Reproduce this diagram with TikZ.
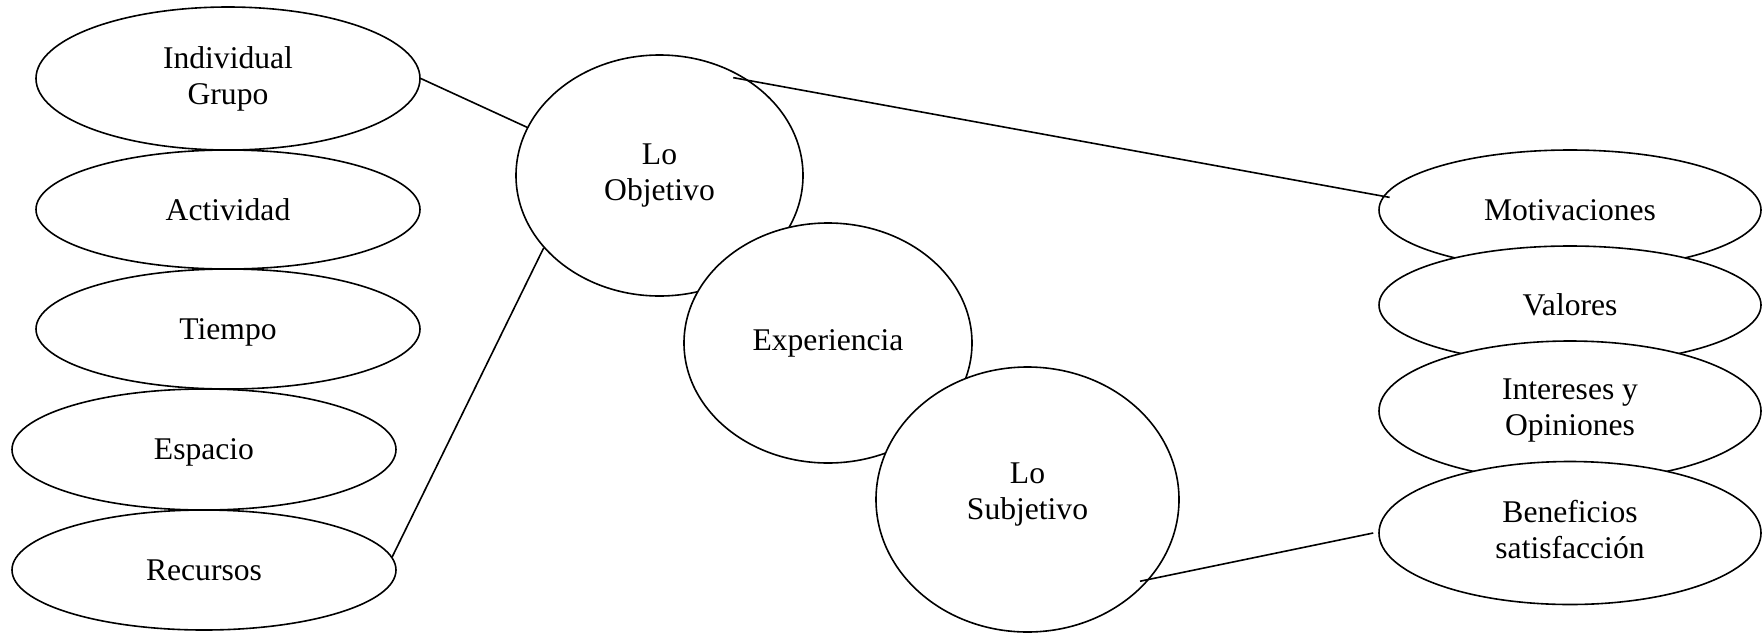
\documentclass[tikz,border=0pt]{standalone}
\usepackage{fontspec}
\setmainfont{Liberation Serif}
\usetikzlibrary{shapes.geometric,calc}
\tikzset{
  oval/.style={ellipse, draw=black, line width=0.8pt, fill=white, inner sep=0pt,
    align=center, font=\fontsize{15.8}{18}\selectfont},
  plain/.style={inner sep=0pt, align=center, font=\fontsize{15.8}{18}\selectfont},
  link/.style={draw=black, line width=0.8pt}
}
\begin{document}
\begin{tikzpicture}[x=0.5pt,y=-0.5pt]
\useasboundingbox (0,0) rectangle (1762,633);
% left column
\node[oval, minimum width=192pt, minimum height=71.5pt] (ind) at (228,78.5) {Individual\\Grupo};
\node[oval, minimum width=192pt, minimum height=59.5pt] (act) at (228,209.5) {Actividad};
\node[oval, minimum width=192pt, minimum height=60pt, text depth=0pt] (tie) at (228,329) {Tiempo};
\node[oval, minimum width=192pt, minimum height=60.5pt, text depth=0pt] (esp) at (204,449.5) {Espacio};
\node[oval, minimum width=192pt, minimum height=60pt] (rec) at (204,570) {Recursos};
% middle
\node[oval, minimum width=143.5pt, minimum height=120.5pt] (obj) at (659.5,175.5) {Lo\\Objetivo};
\node[oval, minimum width=144pt, minimum height=120pt] (exp) at (828,343) {Experiencia};
\node[oval, minimum width=151.5pt, minimum height=132.5pt] (subj) at (1027.5,499.5) {};
\node[plain] (subjtxt) at ([yshift=2.5pt]subj.center) {Lo\\Subjetivo};
% right column
\node[oval, minimum width=191pt, minimum height=60pt] (mot) at (1570,210) {Motivaciones};
\node[oval, minimum width=191pt, minimum height=59pt] (val) at (1570,305) {Valores};
\node[oval, minimum width=191pt, minimum height=70pt] (int) at (1570,411) {Intereses y\\Opiniones};
\node[oval, minimum width=191pt, minimum height=71.5pt] (ben) at (1570,533) {};
\node[plain] (bentxt) at ([yshift=1.5pt]ben.center) {Beneficios\\satisfacción};
% connectors
\draw[link] (ind.east) -- (obj.160);
\draw[link] (rec.4) -- (obj.212);
\draw[link] ($(obj.center)!0.955!(obj.53)$) -- ($(mot.center)!0.963!(mot.176)$);
\draw[link] ($(subj.center)!0.96!(subj.-36)$) -- ($(ben.center)!1.026!(ben.west)$);
\end{tikzpicture}
\end{document}
